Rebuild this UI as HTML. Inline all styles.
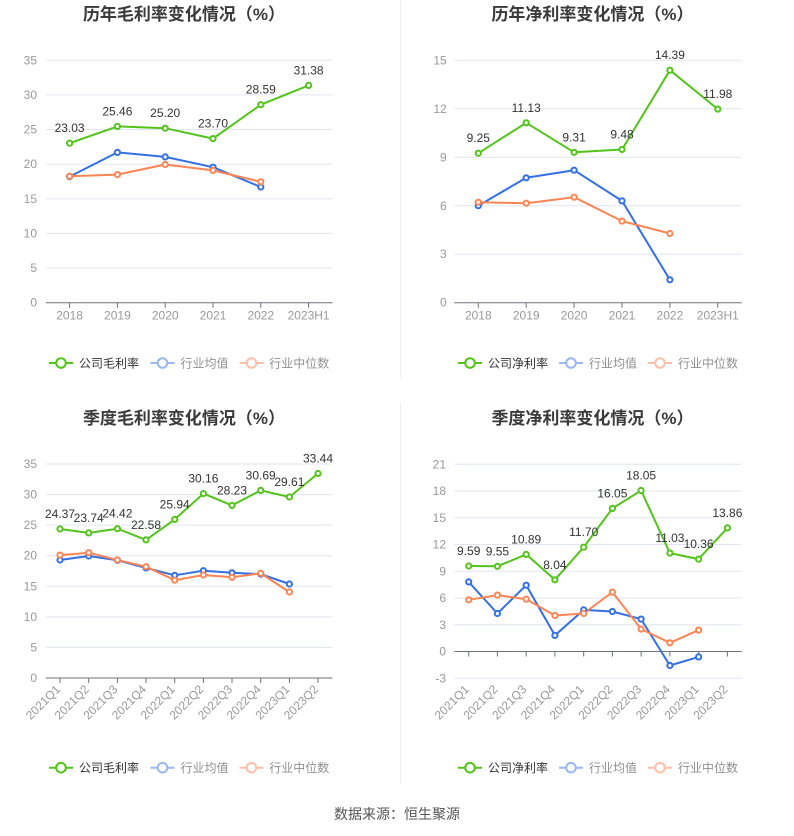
<!DOCTYPE html>
<html><head><meta charset="utf-8"><style>
html,body{margin:0;padding:0;background:#fff;}
svg{display:block;}
text{font-family:"Liberation Sans","Noto Sans CJK SC",sans-serif;}
.t{font-size:17px;font-weight:bold;fill:#3a3a3a;text-anchor:middle;font-family:"Liberation Sans","Noto Sans CJK SC",sans-serif;}
.yl{font-size:12px;fill:#999;text-anchor:end;}
.xl{font-size:12px;fill:#999;text-anchor:middle;}
.xr{font-size:12px;fill:#999;text-anchor:end;}
.dl{font-size:12px;fill:#333;text-anchor:middle;}
.lg{font-size:12px;fill:#333;}
.lg2{font-size:12px;fill:#909090;}
.g{stroke:#e0e6f1;stroke-width:1;}
.ax{stroke:#6e7079;stroke-width:1;}
.sg{fill:none;stroke:#52c41a;stroke-width:2;stroke-linejoin:round;}
.sb{fill:none;stroke:#3370e4;stroke-width:2;stroke-linejoin:round;}
.so{fill:none;stroke:#ff8454;stroke-width:2;stroke-linejoin:round;}
.mg circle{fill:#fff;stroke:#52c41a;stroke-width:2;}
.mb circle{fill:#fff;stroke:#3370e4;stroke-width:2;}
.mo circle{fill:#fff;stroke:#ff8454;stroke-width:2;}
</style></head><body>
<svg width="794" height="836" viewBox="0 0 794 836" xmlns="http://www.w3.org/2000/svg">
<rect width="794" height="836" fill="#fff"/>
<line x1="400.5" y1="0" x2="400.5" y2="378" stroke="#eeeeee"/>
<line x1="400.5" y1="403" x2="400.5" y2="783" stroke="#eeeeee"/>

<!-- ===== Chart 1 ===== -->
<text class="t" x="184" y="20">历年毛利率变化情况（%）</text>
<g>
<line class="g" x1="45.7" x2="332.5" y1="60.3" y2="60.3"/>
<line class="g" x1="45.7" x2="332.5" y1="94.9" y2="94.9"/>
<line class="g" x1="45.7" x2="332.5" y1="129.5" y2="129.5"/>
<line class="g" x1="45.7" x2="332.5" y1="164.2" y2="164.2"/>
<line class="g" x1="45.7" x2="332.5" y1="198.8" y2="198.8"/>
<line class="g" x1="45.7" x2="332.5" y1="233.4" y2="233.4"/>
<line class="g" x1="45.7" x2="332.5" y1="268.1" y2="268.1"/>
<line class="ax" x1="45.7" x2="332.5" y1="302.7" y2="302.7"/>
<path class="ax" d="M69.6 302.7v5M117.4 302.7v5M165.2 302.7v5M213 302.7v5M260.8 302.7v5M308.6 302.7v5"/>
<text class="yl" x="37" y="64.3">35</text>
<text class="yl" x="37" y="98.9">30</text>
<text class="yl" x="37" y="133.5">25</text>
<text class="yl" x="37" y="168.2">20</text>
<text class="yl" x="37" y="202.8">15</text>
<text class="yl" x="37" y="237.4">10</text>
<text class="yl" x="37" y="272.1">5</text>
<text class="yl" x="37" y="306.7">0</text>
<text class="xl" x="69.6" y="319.5">2018</text>
<text class="xl" x="117.4" y="319.5">2019</text>
<text class="xl" x="165.2" y="319.5">2020</text>
<text class="xl" x="213" y="319.5">2021</text>
<text class="xl" x="260.8" y="319.5">2022</text>
<text class="xl" x="308.6" y="319.5">2023H1</text>
<polyline class="sb" points="69.6,176.6 117.4,152.4 165.2,156.9 213,167.2 260.8,187"/>
<polyline class="so" points="69.6,176.2 117.4,174.6 165.2,164.5 213,170.4 260.8,181.8"/>
<polyline class="sg" points="69.6,143.2 117.4,126.4 165.2,128.2 213,138.6 260.8,104.7 308.6,85.4"/>
<g class="mb"><circle cx="69.6" cy="176.6" r="2.6"/><circle cx="117.4" cy="152.4" r="2.6"/><circle cx="165.2" cy="156.9" r="2.6"/><circle cx="213" cy="167.2" r="2.6"/><circle cx="260.8" cy="187" r="2.6"/></g>
<g class="mo"><circle cx="69.6" cy="176.2" r="2.6"/><circle cx="117.4" cy="174.6" r="2.6"/><circle cx="165.2" cy="164.5" r="2.6"/><circle cx="213" cy="170.4" r="2.6"/><circle cx="260.8" cy="181.8" r="2.6"/></g>
<g class="mg"><circle cx="69.6" cy="143.2" r="2.6"/><circle cx="117.4" cy="126.4" r="2.6"/><circle cx="165.2" cy="128.2" r="2.6"/><circle cx="213" cy="138.6" r="2.6"/><circle cx="260.8" cy="104.7" r="2.6"/><circle cx="308.6" cy="85.4" r="2.6"/></g>
<text class="dl" x="69.6" y="132.2">23.03</text>
<text class="dl" x="117.4" y="115.4">25.46</text>
<text class="dl" x="165.2" y="117.2">25.20</text>
<text class="dl" x="213" y="127.6">23.70</text>
<text class="dl" x="260.8" y="93.7">28.59</text>
<text class="dl" x="308.6" y="74.4">31.38</text>
<!-- legend -->
<line x1="49" x2="73" y1="363" y2="363" stroke="#52c41a" stroke-width="2"/><circle cx="61" cy="363" r="4.8" fill="#fff" stroke="#52c41a" stroke-width="2"/>
<text class="lg" x="79" y="367.5">公司毛利率</text>
<line x1="150.5" x2="174.5" y1="363" y2="363" stroke="#9ab8f3" stroke-width="2"/><circle cx="162.5" cy="363" r="4.8" fill="#fff" stroke="#9ab8f3" stroke-width="2"/>
<text class="lg2" x="180.5" y="367.5">行业均值</text>
<line x1="239.5" x2="263.5" y1="363" y2="363" stroke="#ffbfa8" stroke-width="2"/><circle cx="251.5" cy="363" r="4.8" fill="#fff" stroke="#ffbfa8" stroke-width="2"/>
<text class="lg2" x="269.3" y="367.5">行业中位数</text>
</g>

<!-- ===== Chart 2 ===== -->
<text class="t" x="592.5" y="20">历年净利率变化情况（%）</text>
<g>
<line class="g" x1="454.3" x2="741.7" y1="60.3" y2="60.3"/>
<line class="g" x1="454.3" x2="741.7" y1="108.8" y2="108.8"/>
<line class="g" x1="454.3" x2="741.7" y1="157.3" y2="157.3"/>
<line class="g" x1="454.3" x2="741.7" y1="205.8" y2="205.8"/>
<line class="g" x1="454.3" x2="741.7" y1="254.2" y2="254.2"/>
<line class="ax" x1="454.3" x2="741.7" y1="302.7" y2="302.7"/>
<path class="ax" d="M478.3 302.7v5M526.2 302.7v5M574.1 302.7v5M622 302.7v5M669.9 302.7v5M717.8 302.7v5"/>
<text class="yl" x="446.7" y="64.3">15</text>
<text class="yl" x="446.7" y="112.8">12</text>
<text class="yl" x="446.7" y="161.3">9</text>
<text class="yl" x="446.7" y="209.8">6</text>
<text class="yl" x="446.7" y="258.2">3</text>
<text class="yl" x="446.7" y="306.7">0</text>
<text class="xl" x="478.3" y="319.5">2018</text>
<text class="xl" x="526.2" y="319.5">2019</text>
<text class="xl" x="574.1" y="319.5">2020</text>
<text class="xl" x="622" y="319.5">2021</text>
<text class="xl" x="669.9" y="319.5">2022</text>
<text class="xl" x="717.8" y="319.5">2023H1</text>
<polyline class="sb" points="478.3,205.7 526.2,177.8 574.1,170.2 622,200.9 669.9,279.8"/>
<polyline class="so" points="478.3,202.2 526.2,203.2 574.1,197.2 622,221.1 669.9,233.5"/>
<polyline class="sg" points="478.3,153.2 526.2,122.8 574.1,152.3 622,149.5 669.9,70.2 717.8,109.1"/>
<g class="mb"><circle cx="478.3" cy="205.7" r="2.6"/><circle cx="526.2" cy="177.8" r="2.6"/><circle cx="574.1" cy="170.2" r="2.6"/><circle cx="622" cy="200.9" r="2.6"/><circle cx="669.9" cy="279.8" r="2.6"/></g>
<g class="mo"><circle cx="478.3" cy="202.2" r="2.6"/><circle cx="526.2" cy="203.2" r="2.6"/><circle cx="574.1" cy="197.2" r="2.6"/><circle cx="622" cy="221.1" r="2.6"/><circle cx="669.9" cy="233.5" r="2.6"/></g>
<g class="mg"><circle cx="478.3" cy="153.2" r="2.6"/><circle cx="526.2" cy="122.8" r="2.6"/><circle cx="574.1" cy="152.3" r="2.6"/><circle cx="622" cy="149.5" r="2.6"/><circle cx="669.9" cy="70.2" r="2.6"/><circle cx="717.8" cy="109.1" r="2.6"/></g>
<text class="dl" x="478.3" y="142.2">9.25</text>
<text class="dl" x="526.2" y="111.8">11.13</text>
<text class="dl" x="574.1" y="141.3">9.31</text>
<text class="dl" x="622" y="138.5">9.48</text>
<text class="dl" x="669.9" y="59.2">14.39</text>
<text class="dl" x="717.8" y="98.1">11.98</text>
<line x1="458" x2="482" y1="363" y2="363" stroke="#52c41a" stroke-width="2"/><circle cx="470" cy="363" r="4.8" fill="#fff" stroke="#52c41a" stroke-width="2"/>
<text class="lg" x="488" y="367.5">公司净利率</text>
<line x1="559" x2="583" y1="363" y2="363" stroke="#9ab8f3" stroke-width="2"/><circle cx="571" cy="363" r="4.8" fill="#fff" stroke="#9ab8f3" stroke-width="2"/>
<text class="lg2" x="589" y="367.5">行业均值</text>
<line x1="648" x2="672" y1="363" y2="363" stroke="#ffbfa8" stroke-width="2"/><circle cx="660" cy="363" r="4.8" fill="#fff" stroke="#ffbfa8" stroke-width="2"/>
<text class="lg2" x="678" y="367.5">行业中位数</text>
</g>

<!-- ===== Chart 3 ===== -->
<text class="t" x="184" y="424">季度毛利率变化情况（%）</text>
<g>
<line class="g" x1="45.7" x2="332.3" y1="464" y2="464"/>
<line class="g" x1="45.7" x2="332.3" y1="494.6" y2="494.6"/>
<line class="g" x1="45.7" x2="332.3" y1="525.1" y2="525.1"/>
<line class="g" x1="45.7" x2="332.3" y1="555.7" y2="555.7"/>
<line class="g" x1="45.7" x2="332.3" y1="586.3" y2="586.3"/>
<line class="g" x1="45.7" x2="332.3" y1="616.9" y2="616.9"/>
<line class="g" x1="45.7" x2="332.3" y1="647.4" y2="647.4"/>
<line class="ax" x1="45.7" x2="332.3" y1="678" y2="678"/>
<path class="ax" d="M60 678v5M88.7 678v5M117.4 678v5M146 678v5M174.7 678v5M203.4 678v5M232 678v5M260.7 678v5M289.4 678v5M318 678v5"/>
<text class="yl" x="37" y="468">35</text>
<text class="yl" x="37" y="498.6">30</text>
<text class="yl" x="37" y="529.1">25</text>
<text class="yl" x="37" y="559.7">20</text>
<text class="yl" x="37" y="590.3">15</text>
<text class="yl" x="37" y="620.9">10</text>
<text class="yl" x="37" y="651.4">5</text>
<text class="yl" x="37" y="682">0</text>
<text class="xr" transform="translate(61,690) rotate(-45)">2021Q1</text>
<text class="xr" transform="translate(89.7,690) rotate(-45)">2021Q2</text>
<text class="xr" transform="translate(118.4,690) rotate(-45)">2021Q3</text>
<text class="xr" transform="translate(147,690) rotate(-45)">2021Q4</text>
<text class="xr" transform="translate(175.7,690) rotate(-45)">2022Q1</text>
<text class="xr" transform="translate(204.4,690) rotate(-45)">2022Q2</text>
<text class="xr" transform="translate(233,690) rotate(-45)">2022Q3</text>
<text class="xr" transform="translate(261.7,690) rotate(-45)">2022Q4</text>
<text class="xr" transform="translate(290.4,690) rotate(-45)">2023Q1</text>
<text class="xr" transform="translate(319,690) rotate(-45)">2023Q2</text>
<polyline class="sb" points="60,560 88.7,556 117.4,560.3 146,567.9 174.7,575.3 203.4,570.7 232,572.8 260.7,574.1 289.4,584"/>
<polyline class="so" points="60,555.1 88.7,552.7 117.4,560 146,566.7 174.7,580.2 203.4,575 232,577.3 260.7,573.4 289.4,592"/>
<polyline class="sg" points="60,529 88.7,532.9 117.4,528.7 146,539.9 174.7,519.4 203.4,493.6 232,505.4 260.7,490.4 289.4,497 318,473.5"/>
<g class="mb"><circle cx="60" cy="560" r="2.6"/><circle cx="88.7" cy="556" r="2.6"/><circle cx="117.4" cy="560.3" r="2.6"/><circle cx="146" cy="567.9" r="2.6"/><circle cx="174.7" cy="575.3" r="2.6"/><circle cx="203.4" cy="570.7" r="2.6"/><circle cx="232" cy="572.8" r="2.6"/><circle cx="260.7" cy="574.1" r="2.6"/><circle cx="289.4" cy="584" r="2.6"/></g>
<g class="mo"><circle cx="60" cy="555.1" r="2.6"/><circle cx="88.7" cy="552.7" r="2.6"/><circle cx="117.4" cy="560" r="2.6"/><circle cx="146" cy="566.7" r="2.6"/><circle cx="174.7" cy="580.2" r="2.6"/><circle cx="203.4" cy="575" r="2.6"/><circle cx="232" cy="577.3" r="2.6"/><circle cx="260.7" cy="573.4" r="2.6"/><circle cx="289.4" cy="592" r="2.6"/></g>
<g class="mg"><circle cx="60" cy="529" r="2.6"/><circle cx="88.7" cy="532.9" r="2.6"/><circle cx="117.4" cy="528.7" r="2.6"/><circle cx="146" cy="539.9" r="2.6"/><circle cx="174.7" cy="519.4" r="2.6"/><circle cx="203.4" cy="493.6" r="2.6"/><circle cx="232" cy="505.4" r="2.6"/><circle cx="260.7" cy="490.4" r="2.6"/><circle cx="289.4" cy="497" r="2.6"/><circle cx="318" cy="473.5" r="2.6"/></g>
<text class="dl" x="60" y="518">24.37</text>
<text class="dl" x="88.7" y="521.9">23.74</text>
<text class="dl" x="117.4" y="517.7">24.42</text>
<text class="dl" x="146" y="528.9">22.58</text>
<text class="dl" x="174.7" y="508.4">25.94</text>
<text class="dl" x="203.4" y="482.6">30.16</text>
<text class="dl" x="232" y="494.4">28.23</text>
<text class="dl" x="260.7" y="479.4">30.69</text>
<text class="dl" x="289.4" y="486">29.61</text>
<text class="dl" x="318" y="462.5">33.44</text>
<line x1="49" x2="73" y1="767.7" y2="767.7" stroke="#52c41a" stroke-width="2"/><circle cx="61" cy="767.7" r="4.8" fill="#fff" stroke="#52c41a" stroke-width="2"/>
<text class="lg" x="79" y="772.2">公司毛利率</text>
<line x1="150.5" x2="174.5" y1="767.7" y2="767.7" stroke="#9ab8f3" stroke-width="2"/><circle cx="162.5" cy="767.7" r="4.8" fill="#fff" stroke="#9ab8f3" stroke-width="2"/>
<text class="lg2" x="180.5" y="772.2">行业均值</text>
<line x1="239.5" x2="263.5" y1="767.7" y2="767.7" stroke="#ffbfa8" stroke-width="2"/><circle cx="251.5" cy="767.7" r="4.8" fill="#fff" stroke="#ffbfa8" stroke-width="2"/>
<text class="lg2" x="269.3" y="772.2">行业中位数</text>
</g>

<!-- ===== Chart 4 ===== -->
<text class="t" x="592.5" y="424">季度净利率变化情况（%）</text>
<g>
<line class="g" x1="454.3" x2="741.7" y1="464.25" y2="464.25"/>
<line class="g" x1="454.3" x2="741.7" y1="491" y2="491"/>
<line class="g" x1="454.3" x2="741.7" y1="517.75" y2="517.75"/>
<line class="g" x1="454.3" x2="741.7" y1="544.5" y2="544.5"/>
<line class="g" x1="454.3" x2="741.7" y1="571.25" y2="571.25"/>
<line class="g" x1="454.3" x2="741.7" y1="598" y2="598"/>
<line class="g" x1="454.3" x2="741.7" y1="624.75" y2="624.75"/>
<line class="g" x1="454.3" x2="741.7" y1="678.25" y2="678.25"/>
<line class="ax" x1="454.3" x2="741.7" y1="651.5" y2="651.5"/>
<path class="ax" d="M468.7 651.5v5M497.4 651.5v5M526.2 651.5v5M554.9 651.5v5M583.7 651.5v5M612.4 651.5v5M641.1 651.5v5M669.9 651.5v5M698.6 651.5v5M727.4 651.5v5"/>
<text class="yl" x="446" y="468.25">21</text>
<text class="yl" x="446" y="495">18</text>
<text class="yl" x="446" y="521.75">15</text>
<text class="yl" x="446" y="548.5">12</text>
<text class="yl" x="446" y="575.25">9</text>
<text class="yl" x="446" y="602">6</text>
<text class="yl" x="446" y="628.75">3</text>
<text class="yl" x="446" y="655.5">0</text>
<text class="yl" x="446" y="682.25">-3</text>
<text class="xr" transform="translate(469.7,690) rotate(-45)">2021Q1</text>
<text class="xr" transform="translate(498.4,690) rotate(-45)">2021Q2</text>
<text class="xr" transform="translate(527.2,690) rotate(-45)">2021Q3</text>
<text class="xr" transform="translate(555.9,690) rotate(-45)">2021Q4</text>
<text class="xr" transform="translate(584.7,690) rotate(-45)">2022Q1</text>
<text class="xr" transform="translate(613.4,690) rotate(-45)">2022Q2</text>
<text class="xr" transform="translate(642.1,690) rotate(-45)">2022Q3</text>
<text class="xr" transform="translate(670.9,690) rotate(-45)">2022Q4</text>
<text class="xr" transform="translate(699.6,690) rotate(-45)">2023Q1</text>
<text class="xr" transform="translate(728.4,690) rotate(-45)">2023Q2</text>
<polyline class="sb" points="468.7,581.9 497.4,613.5 526.2,585.2 554.9,635.4 583.7,609.9 612.4,611.5 641.1,619.1 669.9,665.5 698.6,656.9"/>
<polyline class="so" points="468.7,599.8 497.4,595.1 526.2,599.2 554.9,615.5 583.7,613.5 612.4,592.1 641.1,629.1 669.9,642.8 698.6,630.1"/>
<polyline class="sg" points="468.7,566 497.4,566.3 526.2,554.4 554.9,579.8 583.7,547.2 612.4,508.4 641.1,490.5 669.9,553.1 698.6,559.1 727.4,527.9"/>
<g class="mb"><circle cx="468.7" cy="581.9" r="2.6"/><circle cx="497.4" cy="613.5" r="2.6"/><circle cx="526.2" cy="585.2" r="2.6"/><circle cx="554.9" cy="635.4" r="2.6"/><circle cx="583.7" cy="609.9" r="2.6"/><circle cx="612.4" cy="611.5" r="2.6"/><circle cx="641.1" cy="619.1" r="2.6"/><circle cx="669.9" cy="665.5" r="2.6"/><circle cx="698.6" cy="656.9" r="2.6"/></g>
<g class="mo"><circle cx="468.7" cy="599.8" r="2.6"/><circle cx="497.4" cy="595.1" r="2.6"/><circle cx="526.2" cy="599.2" r="2.6"/><circle cx="554.9" cy="615.5" r="2.6"/><circle cx="583.7" cy="613.5" r="2.6"/><circle cx="612.4" cy="592.1" r="2.6"/><circle cx="641.1" cy="629.1" r="2.6"/><circle cx="669.9" cy="642.8" r="2.6"/><circle cx="698.6" cy="630.1" r="2.6"/></g>
<g class="mg"><circle cx="468.7" cy="566" r="2.6"/><circle cx="497.4" cy="566.3" r="2.6"/><circle cx="526.2" cy="554.4" r="2.6"/><circle cx="554.9" cy="579.8" r="2.6"/><circle cx="583.7" cy="547.2" r="2.6"/><circle cx="612.4" cy="508.4" r="2.6"/><circle cx="641.1" cy="490.5" r="2.6"/><circle cx="669.9" cy="553.1" r="2.6"/><circle cx="698.6" cy="559.1" r="2.6"/><circle cx="727.4" cy="527.9" r="2.6"/></g>
<text class="dl" x="468.7" y="555">9.59</text>
<text class="dl" x="497.4" y="555.3">9.55</text>
<text class="dl" x="526.2" y="543.4">10.89</text>
<text class="dl" x="554.9" y="568.8">8.04</text>
<text class="dl" x="583.7" y="536.2">11.70</text>
<text class="dl" x="612.4" y="497.4">16.05</text>
<text class="dl" x="641.1" y="479.5">18.05</text>
<text class="dl" x="669.9" y="542.1">11.03</text>
<text class="dl" x="698.6" y="548.1">10.36</text>
<text class="dl" x="727.4" y="516.9">13.86</text>
<line x1="458" x2="482" y1="767.7" y2="767.7" stroke="#52c41a" stroke-width="2"/><circle cx="470" cy="767.7" r="4.8" fill="#fff" stroke="#52c41a" stroke-width="2"/>
<text class="lg" x="488" y="772.2">公司净利率</text>
<line x1="559" x2="583" y1="767.7" y2="767.7" stroke="#9ab8f3" stroke-width="2"/><circle cx="571" cy="767.7" r="4.8" fill="#fff" stroke="#9ab8f3" stroke-width="2"/>
<text class="lg2" x="589" y="772.2">行业均值</text>
<line x1="648" x2="672" y1="767.7" y2="767.7" stroke="#ffbfa8" stroke-width="2"/><circle cx="660" cy="767.7" r="4.8" fill="#fff" stroke="#ffbfa8" stroke-width="2"/>
<text class="lg2" x="678" y="772.2">行业中位数</text>
</g>

<text x="397" y="819" font-size="14" fill="#555" text-anchor="middle">数据来源：恒生聚源</text>
</svg>
</body></html>
